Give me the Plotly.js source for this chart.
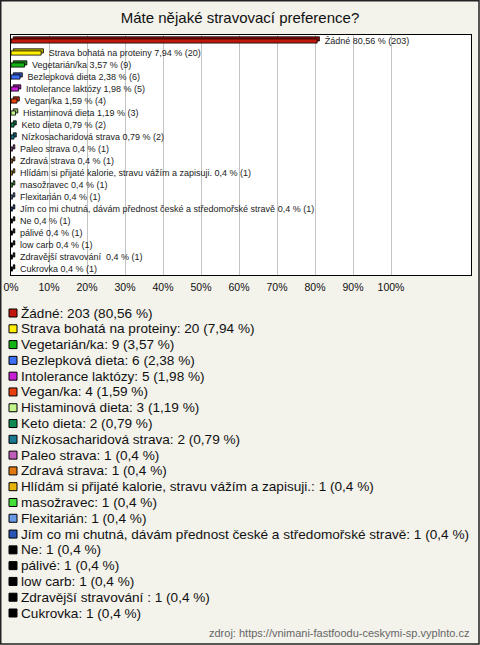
<!DOCTYPE html>
<html>
<head>
<meta charset="utf-8">
<script src="https://cdn.plot.ly/plotly-3.0.1.min.js"></script>
<style>
html,body{margin:0;padding:0;background:#f3f2eb;}
#chart{width:480px;height:645px;}
</style>
</head>
<body>
<div id="chart"></div>
<script>
// ---- data ----
const categories = [
  "Žádné",
  "Strava bohatá na proteiny",
  "Vegetarián/ka",
  "Bezlepková dieta",
  "Intolerance laktózy",
  "Vegan/ka",
  "Histaminová dieta",
  "Keto dieta",
  "Nízkosacharidová strava",
  "Paleo strava",
  "Zdravá strava",
  "Hlídám si přijaté kalorie, stravu vážím a zapisuji.",
  "masožravec",
  "Flexitarián",
  "Jím co mi chutná, dávám přednost české a středomořské stravě",
  "Ne",
  "pálivé",
  "low carb",
  "Zdravější stravování ",
  "Cukrovka"
];
const counts = [203, 20, 9, 6, 5, 4, 3, 2, 2, 1, 1, 1, 1, 1, 1, 1, 1, 1, 1, 1];
const percents = [80.56, 7.94, 3.57, 2.38, 1.98, 1.59, 1.19, 0.79, 0.79, 0.4, 0.4, 0.4, 0.4, 0.4, 0.4, 0.4, 0.4, 0.4, 0.4, 0.4];
const percentLabels = ["80,56", "7,94", "3,57", "2,38", "1,98", "1,59", "1,19", "0,79", "0,79", "0,4", "0,4", "0,4", "0,4", "0,4", "0,4", "0,4", "0,4", "0,4", "0,4", "0,4"];
const colors = ["#c0180c", "#ffee00", "#14b414", "#3d6ff5", "#c81ed6", "#e8400c", "#c4f58a", "#108a50", "#1a7890", "#c05cb8", "#e07a10", "#e6b40c", "#44e03a", "#6a9ae6", "#2a55b5", "#000000", "#000000", "#000000", "#000000", "#000000"];
const tickVals = [0, 10, 20, 30, 40, 50, 60, 70, 80, 90, 100];
const tickText = ["0%", "10%", "20%", "30%", "40%", "50%", "60%", "70%", "80%", "90%", "100%"];
const titleText = "Máte nějaké stravovací preference?";
const sourceText = "zdroj: https://vnimani-fastfoodu-ceskymi-sp.vyplnto.cz";

// ---- helpers ----
function darker(hex, f) {
  const n = parseInt(hex.slice(1), 16);
  const r = Math.round(((n >> 16) & 255) * f), g = Math.round(((n >> 8) & 255) * f), b = Math.round((n & 255) * f);
  return "rgb(" + r + "," + g + "," + b + ")";
}
const W = 480, H = 645;
const M = {l: 11, r: 9, t: 35, b: 370};
const plotW = W - M.l - M.r, plotH = H - M.t - M.b;
const px2x = p => (p - M.l) / plotW;
const py2y = p => (H - M.b - p) / plotH;

// ---- traces ----
const barLabels = categories.map((c, i) => "\u00a0\u00a0\u00a0" + c + " " + percentLabels[i] + " % (" + counts[i] + ")");
const backTrace = {
  type: "bar", orientation: "h",
  y: categories, x: percents, base: 0.6,
  width: 0.35, offset: -0.35,
  marker: {color: colors.map(c => darker(c, 0.75)), line: {color: "#000", width: 0.8}},
  hoverinfo: "skip", showlegend: false
};
const frontTrace = {
  type: "bar", orientation: "h",
  y: categories, x: percents,
  width: 0.35, offset: -0.175,
  marker: {color: colors, line: {color: "#000", width: 0.8}},
  text: barLabels, textposition: "outside", textangle: 0,
  constraintext: "none", cliponaxis: false,
  outsidetextfont: {family: "Liberation Sans, Arial, sans-serif", size: 9, color: "#222"},
  hoverinfo: "skip", showlegend: false
};

// ---- legend built from data ----
const annotations = [];
const shapes = [];
const legTop = 313, legStep = 15.79;
categories.forEach((c, i) => {
  const cy = legTop + i * legStep;
  annotations.push({
    xref: "paper", yref: "paper", x: px2x(19), y: py2y(cy),
    xanchor: "left", yanchor: "middle", showarrow: false,
    text: c + ": " + counts[i] + " (" + percentLabels[i] + " %)",
    font: {family: "Liberation Sans, Arial, sans-serif", size: 13.6, color: "#111"}
  });
  shapes.push({
    type: "rect", xref: "paper", yref: "paper",
    x0: px2x(9), x1: px2x(17), y0: py2y(cy - 4), y1: py2y(cy + 4),
    fillcolor: colors[i], line: {color: "#000", width: 1}
  });
});
annotations.push({
  xref: "paper", yref: "paper", x: px2x(471), y: py2y(633),
  xanchor: "right", yanchor: "middle", showarrow: false,
  text: sourceText,
  font: {family: "Liberation Sans, Arial, sans-serif", size: 11, color: "#666"}
});
// outer frame
shapes.push({
  type: "rect", xref: "paper", yref: "paper",
  x0: px2x(0.75), x1: px2x(479), y0: py2y(0.75), y1: py2y(644),
  line: {color: "#222", width: 1.5}, fillcolor: "rgba(0,0,0,0)"
});

const layout = {
  width: W, height: H,
  margin: M,
  paper_bgcolor: "#f3f2eb",
  plot_bgcolor: "#ffffff",
  barmode: "overlay",
  title: {text: titleText, x: 0.5, xanchor: "center", y: 1 - 18 / H, yanchor: "middle",
          font: {family: "Liberation Sans, Arial, sans-serif", size: 15, color: "#111"}},
  xaxis: {
    range: [0, plotW / 3.8], tickvals: tickVals, ticktext: tickText,
    showgrid: true, gridcolor: "#c4c4c4", gridwidth: 1, zeroline: false,
    showline: true, linecolor: "#000", linewidth: 1, mirror: true,
    ticks: "", ticklabelstandoff: 2,
    tickfont: {family: "Liberation Sans, Arial, sans-serif", size: 10.5, color: "#111"},
    fixedrange: true
  },
  yaxis: {
    type: "category", range: [categories.length - 0.5, -0.5],
    showticklabels: false, showgrid: false, zeroline: false,
    showline: true, linecolor: "#000", linewidth: 1, mirror: true, ticks: "",
    fixedrange: true
  },
  annotations: annotations,
  shapes: shapes,
  showlegend: false
};

Plotly.newPlot("chart", [backTrace, frontTrace], layout, {displayModeBar: false, staticPlot: true});
</script>
</body>
</html>
